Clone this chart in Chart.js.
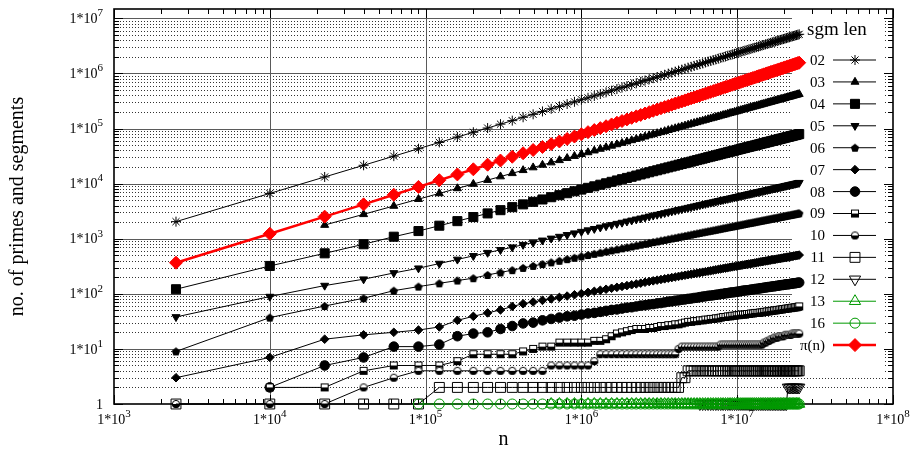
<!DOCTYPE html>
<html>
<head>
<meta charset="utf-8">
<script src="https://cdn.jsdelivr.net/npm/chart.js"></script>
<style>
html,body{margin:0;padding:0;background:#fff;}
#wrap{width:912px;height:453px;position:relative;}
</style>
</head>
<body>
<div id="wrap"><canvas id="c" width="912" height="453"></canvas></div>
<script>
// ---------------- data ----------------
const nValues = [
  2500, 10000, 22500, 40000, 62500, 90000, 122500, 160000, 202500, 250000,
  302500, 360000, 422500, 490000, 562500, 640000, 722500, 810000, 902500, 1000000,
  1102500, 1210000, 1322500, 1440000, 1562500, 1690000, 1822500, 1960000, 2102500, 2250000,
  2402500, 2560000, 2722500, 2890000, 3062500, 3240000, 3422500, 3610000, 3802500, 4000000,
  4202500, 4410000, 4622500, 4840000, 5062500, 5290000, 5522500, 5760000, 6002500, 6250000,
  6502500, 6760000, 7022500, 7290000, 7562500, 7840000, 8122500, 8410000, 8702500, 9000000,
  9302500, 9610000, 9922500, 10240000, 10562500, 10890000, 11222500, 11560000, 11902500, 12250000,
  12602500, 12960000, 13322500, 13690000, 14062500, 14440000, 14822500, 15210000, 15602500, 16000000,
  16402500, 16810000, 17222500, 17640000, 18062500, 18490000, 18922500, 19360000, 19802500, 20250000,
  20702500, 21160000, 21622500, 22090000, 22562500, 23040000, 23522500, 24010000, 24502500, 25000000
];
const sgm02 = [
  2040, 6640, 13200, 21500, 31500, 43000, 55900, 70000, 85500, 102000,
  120000, 139000, 160000, 181000, 204000, 228000, 252000, 278000, 305000, 333000,
  361000, 390000, 422000, 453000, 486000, 520000, 553000, 589000, 624000, 662000,
  700000, 740000, 780000, 820000, 861000, 902000, 946000, 991000, 1035000, 1079000,
  1127000, 1172000, 1219000, 1268000, 1318000, 1371000, 1419000, 1472000, 1524000, 1578000,
  1637000, 1687000, 1742000, 1795000, 1854000, 1914000, 1972000, 2028000, 2094000, 2153000,
  2213000, 2270000, 2333000, 2399000, 2466000, 2535000, 2594000, 2667000, 2729000, 2799000,
  2864000, 2931000, 2999000, 3069000, 3148000, 3221000, 3281000, 3357000, 3443000, 3508000,
  3581000, 3664000, 3733000, 3811000, 3882000, 3963000, 4055000, 4121000, 4198000, 4285000,
  4365000, 4457000, 4529000, 4613000, 4710000, 4775000, 4875000, 4955000, 5047000, 5129000
];
const sgm03 = [
  null, null, 1770, 2773, 3926, 5224, 6637, 8185, 9840, 11590,
  13430, 15380, 17460, 19590, 21830, 24100, 26490, 28970, 31550, 34200,
  36810, 39630, 42560, 45390, 48420, 51400, 54450, 57680, 60950, 64270,
  67610, 71120, 74820, 78340, 81850, 85310, 89130, 93110, 96830, 100700,
  104700, 108600, 112400, 116700, 121100, 125300, 129400, 133700, 138000, 142600,
  147200, 151700, 156000, 160700, 165200, 170200, 175000, 179500, 184900, 189700,
  194500, 199500, 204200, 209400, 214800, 220300, 225400, 230700, 236000, 241000,
  246600, 251800, 257000, 263000, 268500, 274200, 279300, 285800, 291700, 297200,
  302000, 309000, 314800, 319900, 325800, 331900, 338800, 344300, 349900, 356400,
  363100, 369800, 375000, 381900, 389000, 394500, 401800, 407400, 415000, 420700
];
const sgm04 = [
  121, 320, 543, 793, 1087, 1377, 1722, 2084, 2472, 2877,
  3296, 3741, 4198, 4667, 5152, 5662, 6166, 6699, 7261, 7798,
  8375, 8933, 9550, 10140, 10770, 11400, 12020, 12680, 13300, 14000,
  14660, 15350, 16070, 16790, 17460, 18200, 18920, 19680, 20420, 21180,
  21980, 22700, 23500, 24270, 25060, 25940, 26730, 27540, 28380, 29240,
  30130, 30900, 31770, 32580, 33500, 34360, 35320, 36140, 37070, 37930,
  38820, 39720, 40740, 41690, 42660, 43650, 44460, 45600, 46450, 47420,
  48310, 49320, 50350, 51290, 52360, 53460, 54330, 55340, 56490, 57410,
  58480, 59570, 60530, 61660, 62660, 63680, 65010, 65770, 66990, 68080,
  69180, 70310, 71290, 72440, 73620, 74650, 75860, 76910, 78160, 79250
];
const sgm05 = [
  38, 89, 141, 184, 239, 291, 354, 420, 488, 557,
  628, 701, 778, 853, 933, 1012, 1091, 1175, 1259, 1343,
  1429, 1514, 1607, 1694, 1782, 1875, 1963, 2061, 2153, 2249,
  2344, 2438, 2541, 2642, 2735, 2831, 2931, 3041, 3141, 3243,
  3350, 3443, 3548, 3656, 3758, 3873, 3972, 4083, 4188, 4305,
  4416, 4519, 4624, 4742, 4853, 4966, 5082, 5188, 5309, 5420,
  5534, 5649, 5768, 5888, 6012, 6124, 6237, 6368, 6486, 6592,
  6714, 6839, 6950, 7079, 7194, 7328, 7430, 7568, 7691, 7816,
  7925, 8072, 8185, 8299, 8433, 8551, 8710, 8810, 8933, 9078,
  9204, 9333, 9441, 9594, 9727, 9840, 9977, 10120, 10250, 10380
];
const sgm06 = [
  9, 37, 60, 83, 114, 135, 155, 174, 192, 220,
  244, 269, 295, 321, 346, 372, 398, 425, 451, 478,
  505, 531, 558, 586, 614, 641, 668, 697, 723, 752,
  780, 809, 838, 867, 893, 923, 951, 982, 1009, 1038,
  1069, 1096, 1125, 1153, 1183, 1216, 1245, 1274, 1303, 1334,
  1365, 1393, 1422, 1452, 1483, 1514, 1545, 1574, 1607, 1633,
  1663, 1694, 1726, 1758, 1791, 1820, 1849, 1884, 1914, 1941,
  1972, 2004, 2037, 2065, 2099, 2133, 2158, 2193, 2228, 2254,
  2286, 2323, 2350, 2382, 2410, 2443, 2483, 2506, 2541, 2570,
  2606, 2642, 2667, 2704, 2735, 2767, 2799, 2831, 2871, 2897
];
const sgm07 = [
  3, 7, 15, 18, 20, 22, 25, 33, 39, 45,
  51, 59, 66, 71, 76, 81, 86, 91, 96, 101,
  106, 111, 116, 121, 126, 131, 136, 141, 146, 151,
  156, 162, 167, 172, 177, 182, 187, 192, 197, 202,
  207, 212, 217, 222, 227, 232, 237, 242, 247, 252,
  257, 262, 267, 273, 278, 283, 288, 293, 298, 303,
  308, 313, 318, 323, 328, 333, 338, 343, 348, 353,
  358, 363, 368, 373, 379, 384, 389, 394, 399, 404,
  409, 414, 419, 424, 429, 434, 439, 444, 449, 454,
  459, 464, 469, 474, 479, 485, 490, 495, 500, 505
];
const sgm08 = [
  null, 2, 5, 7, 11, 11, 12, 17, 19, 20,
  23, 26, 29, 30, 33, 35, 37, 39, 40, 42,
  44, 45, 47, 49, 51, 52, 54, 56, 57, 59,
  61, 62, 64, 65, 67, 68, 70, 72, 73, 75,
  76, 78, 79, 81, 82, 84, 85, 87, 89, 90,
  92, 93, 94, 96, 97, 99, 100, 102, 103, 105,
  106, 107, 109, 110, 112, 114, 115, 116, 117, 119,
  120, 122, 123, 124, 126, 127, 129, 130, 132, 133,
  134, 136, 137, 138, 140, 141, 143, 144, 145, 147,
  148, 149, 150, 152, 153, 155, 156, 157, 159, 160
];
const sgm09 = [
  null, 2, 2, 4, 5, 5, 5, 6, 8, 8,
  8, 8, 9, 10, 11, 11, 13, 13, 13, 13,
  13, 14, 14, 15, 17, 19, 20, 21, 22, 23,
  23, 23, 24, 24, 25, 26, 26, 27, 27, 28,
  28, 29, 30, 31, 31, 32, 32, 33, 33, 34,
  34, 35, 35, 36, 36, 37, 38, 38, 39, 39,
  40, 40, 41, 41, 42, 42, 42, 43, 43, 44,
  44, 45, 45, 45, 46, 46, 47, 47, 48, 48,
  49, 49, 50, 50, 51, 51, 52, 52, 53, 53,
  54, 54, 55, 55, 56, 56, 57, 57, 58, 59
];
const sgm10 = [
  1, 1, 1, 2, 3, 4, 4, 4, 4, 4,
  4, 4, 4, 4, 4, 5, 5, 5, 5, 5,
  5, 6, 8, 8, 8, 8, 8, 8, 8, 8,
  8, 8, 8, 8, 8, 8, 8, 8, 8, 8,
  10, 11, 11, 11, 11, 11, 11, 11, 11, 11,
  11, 11, 11, 11, 11, 12, 12, 12, 12, 12,
  12, 12, 12, 12, 12, 12, 12, 12, 12, 12,
  12, 12, 12, 12, 12, 12, 13, 13, 14, 14,
  15, 15, 16, 16, 16, 17, 17, 17, 17, 18,
  18, 18, 18, 18, 19, 19, 19, 19, 19, 19
];
const sgm11 = [
  1, 1, 1, 1, 1, 1, 2, 2, 2, 2,
  2, 2, 2, 2, 2, 2, 2, 2, 2, 2,
  2, 2, 2, 2, 2, 2, 2, 2, 2, 2,
  2, 2, 2, 2, 2, 2, 2, 2, 2, 2,
  2, 3, 3, 4, 4, 4, 4, 4, 4, 4,
  4, 4, 4, 4, 4, 4, 4, 4, 4, 4,
  4, 4, 4, 4, 4, 4, 4, 4, 4, 4,
  4, 4, 4, 4, 4, 4, 4, 4, 4, 4,
  4, 4, 4, 4, 4, 4, 4, 4, 4, 4,
  4, 4, 4, 4, 4, 4, 4, 4, 4, 4
];
const sgm12 = [
  null, null, null, null, null, null, null, null, null, null,
  null, null, null, null, null, null, null, null, null, null,
  null, null, null, null, null, null, null, null, null, null,
  null, null, null, null, null, null, null, null, null, null,
  null, null, null, null, null, null, null, 1, 1, 1,
  1, 1, 1, 1, 1, 1, 1, 1, 1, 1,
  1, 1, 1, 1, 1, 1, 1, 1, 1, 1,
  1, 1, 1, 1, 1, 1, 1, 1, 1, 1,
  1, 1, 1, 1, 1, 1, 1, 1, 1, 1,
  1, 2, 2, 2, 2, 2, 2, 2, 2, 2
];
const sgm13 = [
  null, null, null, null, null, null, null, null, null, null,
  null, null, null, null, null, 1, 1, 1, 1, 1,
  1, 1, 1, 1, 1, 1, 1, 1, 1, 1,
  1, 1, 1, 1, 1, 1, 1, 1, 1, 1,
  1, 1, 1, 1, 1, 1, 1, 1, 1, 1,
  1, 1, 1, 1, 1, 1, 1, 1, 1, 1,
  1, 1, 1, 1, 1, 1, 1, 1, 1, 1,
  1, 1, 1, 1, 1, 1, 1, 1, 1, 1,
  1, 1, 1, 1, 1, 1, 1, 1, 1, 1,
  1, 1, 1, 1, 1, 1, 1, 1, 1, 1
];
const sgm16 = [
  null, null, null, null, null, 1, 1, 1, 1, 1,
  1, 1, 1, 1, 1, 1, 1, 1, 1, 1,
  1, 1, 1, 1, 1, 1, 1, 1, 1, 1,
  1, 1, 1, 1, 1, 1, 1, 1, 1, 1,
  1, 1, 1, 1, 1, 1, 1, 1, 1, 1,
  1, 1, 1, 1, 1, 1, 1, 1, 1, 1,
  1, 1, 1, 1, 1, 1, 1, 1, 1, 1,
  1, 1, 1, 1, 1, 1, 1, 1, 1, 1,
  1, 1, 1, 1, 1, 1, 1, 1, 1, 1,
  1, 1, 1, 1, 1, 1, 1, 1, 1, 1
];
const primeCount = [
  367, 1229, 2516, 4203, 6273, 8713, 11519, 14675, 18181, 22044,
  26218, 30735, 35582, 40759, 46258, 52079, 58224, 64676, 71440, 78498,
  85911, 93624, 101606, 109932, 118542, 127451, 136681, 146181, 156006, 166101,
  176524, 187203, 198159, 209435, 221055, 232926, 245077, 257489, 270237, 283146,
  296535, 310170, 324068, 338225, 352640, 367310, 382339, 397653, 413225, 429022,
  445103, 461559, 478242, 495245, 512468, 529944, 547707, 565835, 584099, 602489,
  621659, 640838, 660224, 679902, 699828, 720000, 740612, 761278, 782390, 803753,
  825419, 847280, 869388, 891798, 914396, 937297, 960691, 984020, 1007653, 1031130,
  1056182, 1080473, 1105353, 1130479, 1155852, 1181470, 1206946, 1233435, 1259768, 1286368,
  1313194, 1340258, 1367907, 1395452, 1423232, 1451704, 1479961, 1508829, 1537556, 1565927
];
const xTickValues = [1e3, 1e4, 1e5, 1e6, 1e7, 1e8];
const xTickLabels = ['1*10^3', '1*10^4', '1*10^5', '1*10^6', '1*10^7', '1*10^8'];
const yTickValues = [1, 10, 100, 1e3, 1e4, 1e5, 1e6, 1e7];
const yTickLabels = ['1', '1*10^1', '1*10^2', '1*10^3', '1*10^4', '1*10^5', '1*10^6', '1*10^7'];
const seriesNames = ['02', '03', '04', '05', '06', '07', '08', '09', '10', '11', '12', '13', '16', 'π(n)'];
const legendTitle = 'sgm len';
const xTitle = 'n';
const yTitle = 'no. of primes and segments';

// ---------------- styling ----------------
const serif = '"Liberation Serif", "Times New Roman", Times, serif';
const BLACK = '#000000', GREEN = '#009900', RED = '#ff0000', NONE = 'rgba(0,0,0,0)';
const minorSteps = [2, 3, 4, 5, 6, 7, 8, 9];

function makeImg(w, h, draw) {
  const c = document.createElement('canvas');
  c.width = w; c.height = h;
  draw(c.getContext('2d'));
  return c;
}
const pentagonImg = makeImg(10, 10, g => {
  g.fillStyle = BLACK; g.beginPath();
  for (let i = 0; i < 5; i++) {
    const a = -Math.PI / 2 + i * 2 * Math.PI / 5;
    const px = 5 + 4.4 * Math.cos(a), py = 5.5 + 4.4 * Math.sin(a);
    if (i) g.lineTo(px, py); else g.moveTo(px, py);
  }
  g.closePath(); g.fill();
});
const halfSquareImg = makeImg(10, 10, g => {
  g.fillStyle = '#fff'; g.fillRect(1, 1, 8, 8);
  g.fillStyle = BLACK; g.fillRect(1, 5, 8, 4);
  g.strokeStyle = BLACK; g.lineWidth = 1; g.strokeRect(1.5, 1.5, 7, 7);
});
const halfCircleImg = makeImg(10, 10, g => {
  g.fillStyle = '#fff'; g.beginPath(); g.arc(5, 5, 4, 0, 2 * Math.PI); g.fill();
  g.fillStyle = BLACK; g.beginPath(); g.arc(5, 5, 4, 0, Math.PI); g.fill();
  g.strokeStyle = BLACK; g.lineWidth = 1; g.beginPath(); g.arc(5, 5, 3.6, 0, 2 * Math.PI); g.stroke();
});

function series(label, values, style) {
  return Object.assign({
    label: label,
    data: nValues.map((n, i) => ({ x: n, y: values[i] })),
    borderColor: BLACK, borderWidth: 1, backgroundColor: BLACK,
    pointBackgroundColor: BLACK, pointBorderColor: BLACK, pointBorderWidth: 1,
    pointRadius: 4, pointHoverRadius: 4, tension: 0, fill: false,
    spanGaps: false, clip: false
  }, style);
}

const datasets = [
  series('02', sgm02, { pointStyle: 'star', pointRadius: 5 }),
  series('03', sgm03, { pointStyle: 'triangle', pointRadius: 4.6 }),
  series('04', sgm04, { pointStyle: 'rect', pointRadius: 6.4 }),
  series('05', sgm05, { pointStyle: 'triangle', pointRotation: 180, pointRadius: 4.6 }),
  series('06', sgm06, { pointStyle: pentagonImg }),
  series('07', sgm07, { pointStyle: 'rectRot', pointRadius: 4.3 }),
  series('08', sgm08, { pointStyle: 'circle', pointRadius: 4.8 }),
  series('09', sgm09, { pointStyle: halfSquareImg }),
  series('10', sgm10, { pointStyle: halfCircleImg }),
  series('11', sgm11, { pointStyle: 'rect', pointRadius: 7, pointBackgroundColor: NONE }),
  series('12', sgm12, { pointStyle: 'triangle', pointRotation: 180, pointRadius: 6.5, pointBackgroundColor: NONE }),
  series('13', sgm13, { pointStyle: 'triangle', pointRadius: 6.5, pointBackgroundColor: NONE, borderColor: GREEN, pointBorderColor: GREEN }),
  series('16', sgm16, { pointStyle: 'circle', pointRadius: 5, pointBackgroundColor: NONE, borderColor: GREEN, pointBorderColor: GREEN }),
  series('π(n)', primeCount, { pointStyle: 'rectRot', pointRadius: 6.5, borderColor: RED, pointBackgroundColor: RED, pointBorderColor: RED, borderWidth: 2.5 })
];
// later series are drawn on top (as in the reference)
datasets.forEach((d, i) => { d.order = datasets.length - 1 - i; });

// tick label with a raised exponent ("1*10^3")
function drawPowLabel(ctx, text, x, y, align) {
  const parts = text.split('^');
  ctx.font = '14px ' + serif;
  const wb = ctx.measureText(parts[0]).width;
  ctx.font = '11px ' + serif;
  const we = parts[1] ? ctx.measureText(parts[1]).width : 0;
  const total = wb + we;
  let x0 = align === 'right' ? x - total : x - total / 2;
  ctx.textAlign = 'left'; ctx.textBaseline = 'middle';
  ctx.font = '14px ' + serif;
  ctx.fillText(parts[0], x0, y);
  if (parts[1]) { ctx.font = '11px ' + serif; ctx.fillText(parts[1], x0 + wb, y - 6); }
}

// grid, mirrored inward ticks, border and tick labels in gnuplot style
const framePlugin = {
  id: 'gnuplotFrame',
  beforeDatasetsDraw(chart) {
    const { ctx, chartArea: a, scales: { x, y } } = chart;
    const L = a.left, R = a.right, T = a.top, B = a.bottom;
    const hl = (py, x0, x1) => { ctx.beginPath(); ctx.moveTo(x0, py); ctx.lineTo(x1, py); ctx.stroke(); };
    const vl = (px, y0, y1) => { ctx.beginPath(); ctx.moveTo(px, y0); ctx.lineTo(px, y1); ctx.stroke(); };
    const py = v => Math.round(y.getPixelForValue(v)) + 0.5;
    const px = v => Math.round(x.getPixelForValue(v)) + 0.5;
    ctx.save();
    ctx.lineWidth = 1;
    // minor horizontal dotted grid
    ctx.strokeStyle = '#333'; ctx.setLineDash([1, 2]);
    yTickValues.forEach(d => minorSteps.forEach(m => { if (d * m < y.max) hl(py(d * m), L, R); }));
    ctx.setLineDash([]);
    // major grid
    ctx.strokeStyle = '#5a5a5a';
    yTickValues.slice(1).forEach(v => hl(py(v), L, R));
    xTickValues.slice(1, -1).forEach(v => vl(px(v), T, B));
    // opaque key box
    ctx.fillStyle = '#ffffff';
    ctx.fillRect(792, 12, 93, 363);
    // ticks
    ctx.strokeStyle = BLACK;
    xTickValues.slice(0, -1).forEach(d => minorSteps.forEach(m => { const p = px(d * m); vl(p, B, B - 5); vl(p, T, T + 5); }));
    xTickValues.forEach(d => { const p = px(d); vl(p, B, B - 9); vl(p, T, T + 9); });
    yTickValues.forEach(d => minorSteps.forEach(m => { if (d * m < y.max) { const p = py(d * m); hl(p, L, L + 5); hl(p, R - 5, R); } }));
    yTickValues.forEach(d => { const p = py(d); hl(p, L, L + 9); hl(p, R - 9, R); });
    // border
    ctx.lineWidth = 1.6;
    ctx.strokeRect(L, T, R - L, B - T);
    // tick labels
    ctx.fillStyle = BLACK;
    xTickValues.forEach((v, i) => drawPowLabel(ctx, xTickLabels[i], x.getPixelForValue(v), B + 16, 'center'));
    yTickValues.forEach((v, i) => drawPowLabel(ctx, yTickLabels[i], L - 11, y.getPixelForValue(v) + 1, 'right'));
    ctx.restore();
  }
};

// gnuplot-style key: label, then line sample with marker
const keyPlugin = {
  id: 'gnuplotKey',
  afterDatasetsDraw(chart) {
    const ctx = chart.ctx;
    const drawPoint = Chart.helpers && Chart.helpers.drawPoint;
    ctx.save();
    ctx.fillStyle = BLACK;
    ctx.font = '19px ' + serif;
    ctx.textAlign = 'left'; ctx.textBaseline = 'alphabetic';
    ctx.fillText(legendTitle, 807, 35);
    ctx.font = '15px ' + serif;
    chart.data.datasets.forEach((ds, i) => {
      const yy = 60 + i * 21.93;
      ctx.fillStyle = BLACK; ctx.textAlign = 'right'; ctx.textBaseline = 'middle';
      ctx.fillText(seriesNames[i], 825, yy + 1);
      ctx.strokeStyle = ds.borderColor; ctx.lineWidth = ds.borderWidth;
      ctx.beginPath(); ctx.moveTo(833, yy); ctx.lineTo(876, yy); ctx.stroke();
      if (drawPoint) {
        ctx.fillStyle = ds.pointBackgroundColor; ctx.strokeStyle = ds.pointBorderColor; ctx.lineWidth = 1;
        drawPoint(ctx, { pointStyle: ds.pointStyle, rotation: ds.pointRotation || 0, radius: ds.pointRadius, borderWidth: 1 }, 855, yy);
      }
    });
    ctx.restore();
  }
};

new Chart(document.getElementById('c'), {
  type: 'line',
  data: { datasets: datasets },
  options: {
    responsive: false, animation: false, devicePixelRatio: 1, events: [],
    layout: { padding: { left: 0, right: 19, top: 9, bottom: 0 } },
    plugins: { legend: { display: false }, tooltip: { enabled: false } },
    scales: {
      x: {
        type: 'logarithmic', min: 1e3, max: 1e8,
        afterBuildTicks: s => { s.ticks = xTickValues.map(v => ({ value: v })); },
        afterFit: s => { s.height = 49; },
        grid: { display: false, drawTicks: false }, border: { display: false },
        ticks: { display: false },
        title: { display: true, text: xTitle, color: BLACK, font: { family: serif, size: 20 }, padding: { top: 0, bottom: 1 } }
      },
      y: {
        type: 'logarithmic', min: 1, max: 1.476e7,
        afterBuildTicks: s => { s.ticks = yTickValues.map(v => ({ value: v })); },
        afterFit: s => { s.width = 114; },
        grid: { display: false, drawTicks: false }, border: { display: false },
        ticks: { display: false },
        title: { display: true, text: yTitle, color: BLACK, font: { family: serif, size: 20 }, padding: { top: 6, bottom: 0 } }
      }
    }
  },
  plugins: [framePlugin, keyPlugin]
});
</script>
</body>
</html>
